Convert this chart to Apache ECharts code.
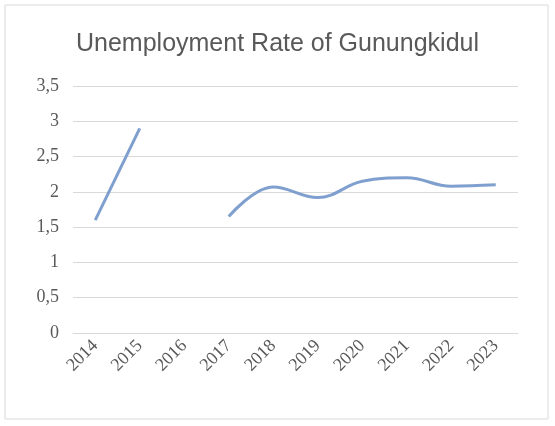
<!DOCTYPE html>
<html><head><meta charset="utf-8">
<script src="https://cdn.jsdelivr.net/npm/echarts@6/dist/echarts.min.js"></script>
<style>html,body{margin:0;padding:0;background:#fff}#c{width:555px;height:426px}</style>
</head><body><div id="c"></div>
<script>
const categories=['2014','2015','2016','2017','2018','2019','2020','2021','2022','2023'];
const values=[1.6,2.9,null,1.65,2.07,1.92,2.15,2.2,2.08,2.1];
const chart=echarts.init(document.getElementById('c'));
chart.setOption({
  graphic:[{type:'rect',shape:{x:5,y:5,width:543,height:414},style:{fill:'none',stroke:'#d9d9d9',lineWidth:1}}],
  title:{text:'Unemployment Rate of Gunungkidul',left:'center',top:27,textStyle:{fontFamily:'Liberation Sans',fontSize:25,fontWeight:'normal',color:'#595959'}},
  grid:{left:73,right:37,top:86,bottom:93},
  xAxis:{type:'category',data:categories,boundaryGap:true,
    axisLine:{lineStyle:{color:'#d9d9d9'}},axisTick:{show:false},
    axisLabel:{rotate:45,color:'#595959',fontFamily:'Liberation Serif',fontSize:18,margin:10}},
  yAxis:{type:'value',min:0,max:3.5,interval:0.5,
    axisLine:{show:false},axisTick:{show:false},
    splitLine:{lineStyle:{color:'#d9d9d9'}},
    axisLabel:{color:'#595959',fontFamily:'Liberation Serif',fontSize:18,margin:14,formatter:v=>String(v).replace('.',',')}},
  series:[{type:'line',data:values,smooth:0.4,connectNulls:false,showSymbol:false,
    lineStyle:{color:'#7f9fcf',width:3}}]
});
</script></body></html>
